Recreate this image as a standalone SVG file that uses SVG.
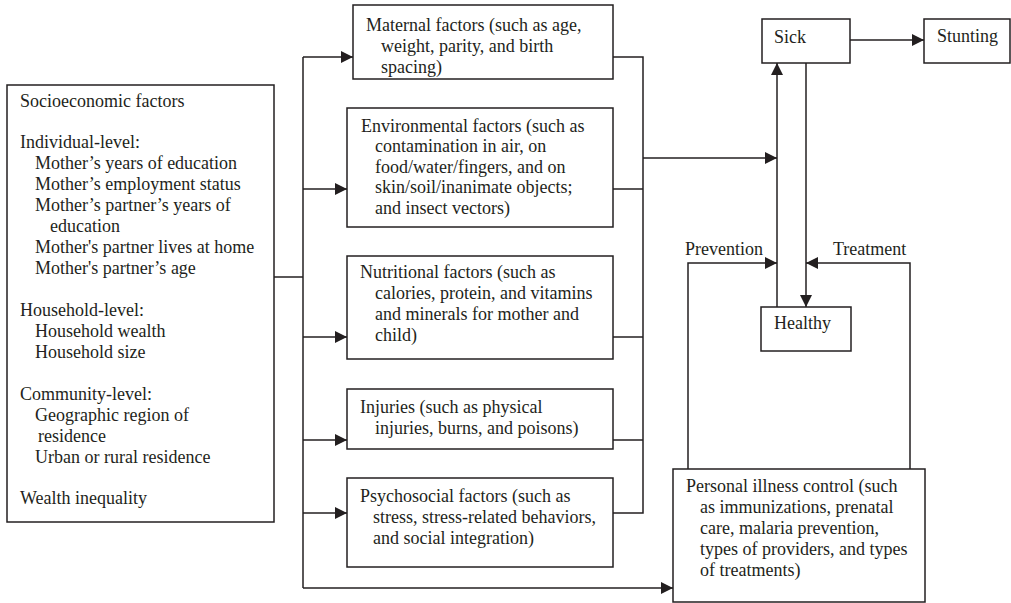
<svg xmlns="http://www.w3.org/2000/svg" width="1011" height="603" viewBox="0 0 1011 603">
<style>
rect.box{fill:#fff;stroke:#231f20;stroke-width:1.5}
text{font-family:"Liberation Serif","Times New Roman",serif;font-size:18px;fill:#231f20}
.ln{fill:none;stroke:#231f20;stroke-width:1.5}
</style>
<defs>
<marker id="ah" markerUnits="userSpaceOnUse" markerWidth="12" markerHeight="12" refX="12" refY="6" orient="auto">
<path d="M0,0 L12,6 L0,12 z" fill="#231f20"/>
</marker>
</defs>
<rect width="1011" height="603" fill="#fff"/>
<g id="connectors">
<path class="ln" d="M274,277 H303"/>
<path class="ln" d="M303,57 V588"/>
<path class="ln" d="M303,57 H353" marker-end="url(#ah)"/>
<path class="ln" d="M303,189 H347" marker-end="url(#ah)"/>
<path class="ln" d="M303,337 H347" marker-end="url(#ah)"/>
<path class="ln" d="M303,440 H347" marker-end="url(#ah)"/>
<path class="ln" d="M303,513 H347" marker-end="url(#ah)"/>
<path class="ln" d="M303,588 H673" marker-end="url(#ah)"/>
<path class="ln" d="M613,57 H643 V513 H613"/>
<path class="ln" d="M613,189 H643"/>
<path class="ln" d="M613,337 H643"/>
<path class="ln" d="M613,440 H643"/>
<path class="ln" d="M643,158 H777" marker-end="url(#ah)"/>
<path class="ln" d="M777,307 V63" marker-end="url(#ah)"/>
<path class="ln" d="M806,63 V307" marker-end="url(#ah)"/>
<path class="ln" d="M850,40 H924" marker-end="url(#ah)"/>
<path class="ln" d="M688,469 V263 H777" marker-end="url(#ah)"/>
<path class="ln" d="M910,469 V263 H806" marker-end="url(#ah)"/>
<text x="685" y="255">Prevention</text>
<text x="833" y="255">Treatment</text>
</g>
<g id="socioeconomic">
<rect class="box" x="7" y="85" width="267" height="437"/>
<text x="20" y="107">Socioeconomic factors</text>
<text x="20" y="148">Individual-level:</text>
<text x="35" y="169">Mother’s years of education</text>
<text x="35" y="190">Mother’s employment status</text>
<text x="35" y="211">Mother’s partner’s years of</text>
<text x="50" y="232">education</text>
<text x="35" y="253">Mother's partner lives at home</text>
<text x="35" y="274">Mother's partner’s age</text>
<text x="20" y="316">Household-level:</text>
<text x="35" y="337">Household wealth</text>
<text x="35" y="358">Household size</text>
<text x="20" y="400">Community-level:</text>
<text x="35" y="421">Geographic region of</text>
<text x="38" y="442">residence</text>
<text x="35" y="463">Urban or rural residence</text>
<text x="20" y="504">Wealth inequality</text>
</g>
<g id="maternal">
<rect class="box" x="353" y="5" width="260" height="74"/>
<text x="366" y="31">Maternal factors (such as age,</text>
<text x="381" y="52">weight, parity, and birth</text>
<text x="381" y="73">spacing)</text>
</g>
<g id="environmental">
<rect class="box" x="347" y="108" width="266" height="119"/>
<text x="361" y="132">Environmental factors (such as</text>
<text x="375" y="152">contamination in air, on</text>
<text x="375" y="173">food/water/fingers, and on</text>
<text x="375" y="193">skin/soil/inanimate objects;</text>
<text x="375" y="214">and insect vectors)</text>
</g>
<g id="nutritional">
<rect class="box" x="347" y="256" width="266" height="103"/>
<text x="360" y="278">Nutritional factors (such as</text>
<text x="375" y="299">calories, protein, and vitamins</text>
<text x="375" y="320">and minerals for mother and</text>
<text x="375" y="341">child)</text>
</g>
<g id="injuries">
<rect class="box" x="347" y="389" width="266" height="60"/>
<text x="360" y="413">Injuries (such as physical</text>
<text x="375" y="434">injuries, burns, and poisons)</text>
</g>
<g id="psychosocial">
<rect class="box" x="347" y="478" width="266" height="89"/>
<text x="360" y="502">Psychosocial factors (such as</text>
<text x="373" y="523">stress, stress-related behaviors,</text>
<text x="373" y="544">and social integration)</text>
</g>
<g id="sick">
<rect class="box" x="762" y="19" width="88" height="44"/>
<text x="774" y="43">Sick</text>
</g>
<g id="stunting">
<rect class="box" x="924" y="19" width="86" height="44"/>
<text x="937" y="42">Stunting</text>
</g>
<g id="healthy">
<rect class="box" x="761" y="307" width="90" height="44"/>
<text x="774" y="329">Healthy</text>
</g>
<g id="personal">
<rect class="box" x="673" y="469" width="252" height="133"/>
<text x="686" y="492">Personal illness control (such</text>
<text x="700" y="513">as immunizations, prenatal</text>
<text x="700" y="534">care, malaria prevention,</text>
<text x="700" y="555">types of providers, and types</text>
<text x="700" y="576">of treatments)</text>
</g>
</svg>
